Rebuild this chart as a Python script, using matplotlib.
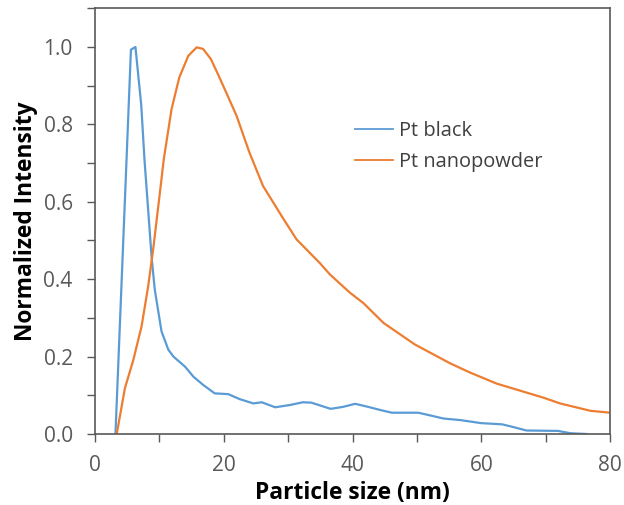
import matplotlib.pyplot as plt
from matplotlib.ticker import MultipleLocator
from matplotlib.lines import Line2D

# Pt black size distribution (nm, normalized intensity)
pt_black_size = [3.2, 4.0, 4.8, 5.6, 6.3, 7.2, 7.7, 8.8, 9.3, 10.35, 11.4, 12.2,
                 14.0, 15.3, 16.8, 18.6, 20.7, 22.5, 24.6, 25.9, 28.0, 30.3,
                 32.3, 33.6, 36.6, 38.5, 40.4, 42.2, 44.3, 46.1, 50.2, 51.8,
                 54.1, 56.7, 60.0, 63.2, 64.7, 67.0, 71.9, 73.8, 76.3]
pt_black_int = [0.0, 0.33, 0.66, 0.993, 1.0, 0.85, 0.71, 0.459, 0.373, 0.265,
                0.218, 0.20, 0.174, 0.148, 0.127, 0.105, 0.103, 0.090, 0.079,
                0.082, 0.069, 0.075, 0.082, 0.081, 0.065, 0.070, 0.078, 0.071,
                0.062, 0.055, 0.055, 0.049, 0.040, 0.036, 0.028, 0.025, 0.019,
                0.009, 0.008, 0.002, 0.0]

# Pt nanopowder size distribution
pt_nano_size = [3.4, 4.66, 5.95, 7.25, 8.28, 9.05, 10.1, 10.7, 11.9, 13.1, 14.5,
                15.8, 16.8, 18.0, 19.1, 20.4, 22.0, 24.0, 26.1, 29.0, 31.3,
                34.9, 36.5, 39.6, 41.7, 44.8, 49.7, 55.1, 58.2, 62.4, 66.0,
                69.6, 72.2, 76.9, 80.0]
pt_nano_int = [0.0, 0.118, 0.19, 0.278, 0.382, 0.477, 0.624, 0.71, 0.839, 0.921,
               0.977, 0.999, 0.995, 0.969, 0.930, 0.882, 0.822, 0.727, 0.641,
               0.563, 0.503, 0.442, 0.412, 0.365, 0.338, 0.287, 0.231, 0.183,
               0.159, 0.130, 0.112, 0.094, 0.079, 0.060, 0.055]

plt.rcParams['font.family'] = ['Open Sans', 'DejaVu Sans']

blue = '#5B9BD5'
orange = '#ED7D31'
spine_col = '#595959'
tick_col = '#595959'

fig = plt.figure(figsize=(6.24, 5.05), dpi=100)
ax = fig.add_axes([0.152, 0.1406, 0.826, 0.843])

ax.plot(pt_black_size, pt_black_int, color=blue, lw=1.6, label='Pt black')
ax.plot(pt_nano_size, pt_nano_int, color=orange, lw=1.6, label='Pt nanopowder')

ax.set_xlim(0, 80)
ax.set_ylim(0, 1.1)
ax.xaxis.set_major_locator(MultipleLocator(20))
ax.xaxis.set_minor_locator(MultipleLocator(10))
ax.yaxis.set_major_locator(MultipleLocator(0.2))
ax.yaxis.set_minor_locator(MultipleLocator(0.1))
ax.yaxis.set_major_formatter(plt.FuncFormatter(lambda v, p: f'{v:.1f}'))

for s in ax.spines.values():
    s.set_color(spine_col)
    s.set_linewidth(1.2)

ax.tick_params(which='both', direction='out', color=spine_col, width=1.0,
               labelcolor=tick_col, labelsize=15, length=6)
ax.tick_params(axis='x', pad=9)
ax.tick_params(axis='y', pad=10)

ax.set_xlabel('Particle size (nm)', fontsize=16.4, fontweight='bold', labelpad=4)
ax.set_ylabel('Normalized Intensity', fontsize=16.4, fontweight='bold', labelpad=4)

handles = [Line2D([], [], color=blue, lw=1.3), Line2D([], [], color=orange, lw=1.3)]
ax.legend(handles, ['Pt black', 'Pt nanopowder'], loc='upper left',
          bbox_to_anchor=(0.5045, 0.736), frameon=False, fontsize=14.4,
          borderaxespad=0, borderpad=0,
          handlelength=1.9, handletextpad=0.3, labelspacing=0.55,
          labelcolor='#404040')

fig.savefig('out.png', dpi=100)
